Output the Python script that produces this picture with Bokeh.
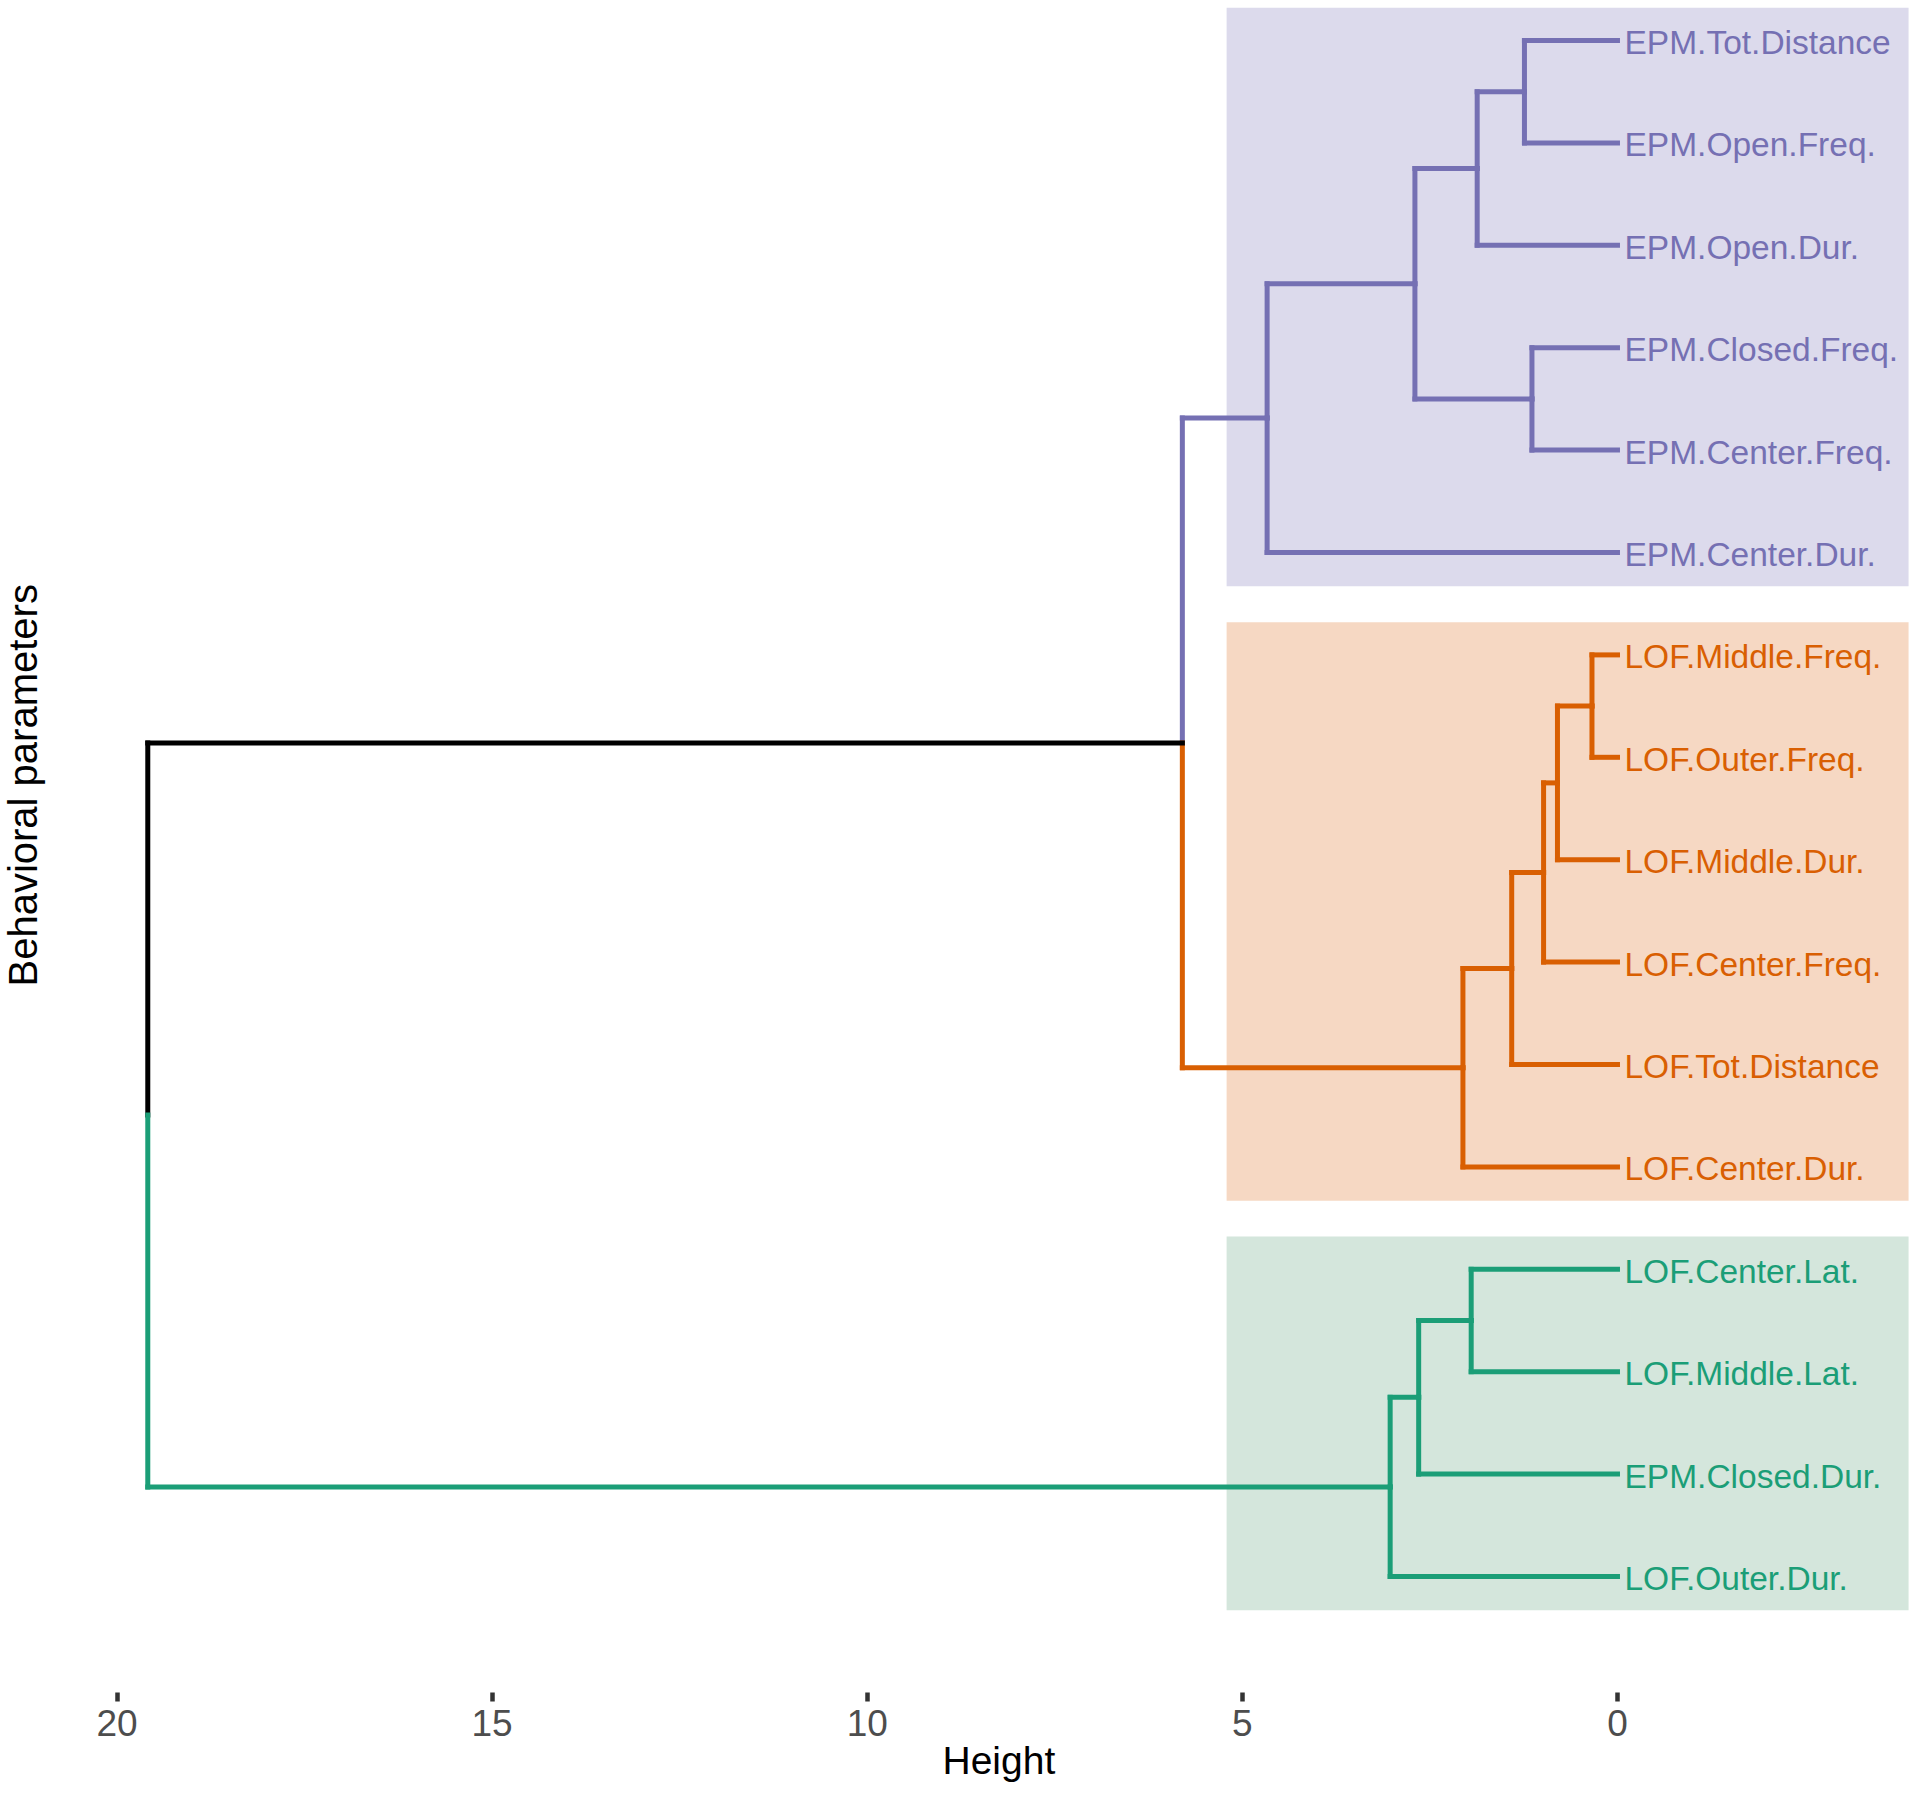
from bokeh.plotting import figure
from bokeh.models import Range1d, FixedTicker, ColumnDataSource, Title
from bokeh.embed import file_html
from bokeh.resources import INLINE
from bokeh.core.properties import value

# ---------------- data ----------------
leaves = [
    "EPM.Tot.Distance", "EPM.Open.Freq.", "EPM.Open.Dur.", "EPM.Closed.Freq.",
    "EPM.Center.Freq.", "EPM.Center.Dur.",
    "LOF.Middle.Freq.", "LOF.Outer.Freq.", "LOF.Middle.Dur.", "LOF.Center.Freq.",
    "LOF.Tot.Distance", "LOF.Center.Dur.",
    "LOF.Center.Lat.", "LOF.Middle.Lat.", "EPM.Closed.Dur.", "LOF.Outer.Dur.",
]
leaf_cluster = [0, 0, 0, 0, 0, 0, 1, 1, 1, 1, 1, 1, 2, 2, 2, 2]

# merges (node ids: leaves 0..15, merges 16..)
merge_left = [0, 16, 3, 17, 19, 6, 21, 22, 23, 24, 20, 12, 27, 28, 26]
merge_right = [1, 2, 4, 18, 5, 7, 8, 9, 10, 11, 25, 13, 14, 15, 29]
merge_height = [1.24, 1.87, 1.14, 2.70, 4.67, 0.34, 0.80, 0.985, 1.41, 2.06,
                5.80, 1.95, 2.65, 3.03, 19.59]

cut_height = 5.21
x_ticks = [0, 5, 10, 15, 20]

# ---------------- styles ----------------
cluster_colors = ["#7570B3", "#D95F02", "#1B9E77"]
box_fill = ["#DCDAEC", "#F6D8C3", "#D4E6DC"]
FONT = "Liberation Sans"

# ---------------- dendrogram geometry ----------------
n = len(leaves)
node_y = [float(n - i) for i in range(n)]
node_h = [0.0] * n
node_cl = list(leaf_cluster)
for a, b, h in zip(merge_left, merge_right, merge_height):
    node_y.append((node_y[a] + node_y[b]) / 2.0)
    node_h.append(h)
    node_cl.append(node_cl[a] if node_cl[a] == node_cl[b] else -1)

x0, y0, x1, y1, cols = [], [], [], [], []
for k, (a, b, h) in enumerate(zip(merge_left, merge_right, merge_height)):
    m = n + k
    for c in (a, b):
        col = cluster_colors[node_cl[c]] if node_cl[c] >= 0 else "#000000"
        x0.append(h); y0.append(node_y[m]); x1.append(h); y1.append(node_y[c]); cols.append(col)
        x0.append(h); y0.append(node_y[c]); x1.append(node_h[c]); y1.append(node_y[c]); cols.append(col)

seg_src = ColumnDataSource(dict(x0=x0, y0=y0, x1=x1, y1=y1, color=cols))

p = figure(width=1920, height=1793, output_backend="svg", toolbar_location=None,
           title=None,
           x_range=Range1d(20.940, -4.039), y_range=Range1d(-0.1328, 16.3906),
           min_border_left=0, min_border_right=0, min_border_top=0, min_border_bottom=101)
p.background_fill_color = "white"
p.border_fill_color = "white"
p.outline_line_color = None
p.grid.visible = False

# cluster boxes
for ci, col in enumerate(box_fill):
    ys = [node_y[i] for i in range(n) if leaf_cluster[i] == ci]
    p.quad(left=cut_height, right=-3.88, bottom=min(ys) - 0.33, top=max(ys) + 0.32,
           fill_color=col, line_color=None)

p.segment(x0="x0", y0="y0", x1="x1", y1="y1", color="color", line_width=5,
          line_cap="square", source=seg_src)

lab_src = ColumnDataSource(dict(
    x=[0.0] * n, y=node_y[:n], text=leaves,
    color=[cluster_colors[c] for c in leaf_cluster]))
p.text(x="x", y="y", text="text", text_color="color", source=lab_src,
       x_offset=7, y_offset=2, text_baseline="middle", text_align="left",
       text_font=value(FONT), text_font_size="33.5px")

# x axis (ticks + labels); title added separately so it can sit off-centre
xa = p.xaxis[0]
xa.ticker = FixedTicker(ticks=x_ticks)
xa.axis_line_color = None
xa.major_tick_in = 0
xa.major_tick_out = 9
xa.major_tick_line_width = 4.5
xa.major_tick_line_color = "#333333"
xa.minor_tick_line_color = None
xa.major_label_standoff = 8
xa.major_label_text_font = FONT
xa.major_label_text_font_size = "37px"
xa.major_label_text_color = "#4D4D4D"

xtitle = Title(text="Height", align="left", offset=896, vertical_align="top",
               text_font=FONT, text_font_size="39px", text_font_style="normal",
               text_color="#000000", standoff=0)
p.add_layout(xtitle, "below")

# y axis: hidden, title as a left Title placed like the reference
p.yaxis.visible = False
ytitle = Title(text="Behavioral parameters", align="left", offset=706,
               vertical_align="top",
               text_font=FONT, text_font_size="40px", text_font_style="normal",
               text_color="#000000", standoff=0)
p.add_layout(ytitle, "left")

open("out.html", "w").write(file_html(p, INLINE))
